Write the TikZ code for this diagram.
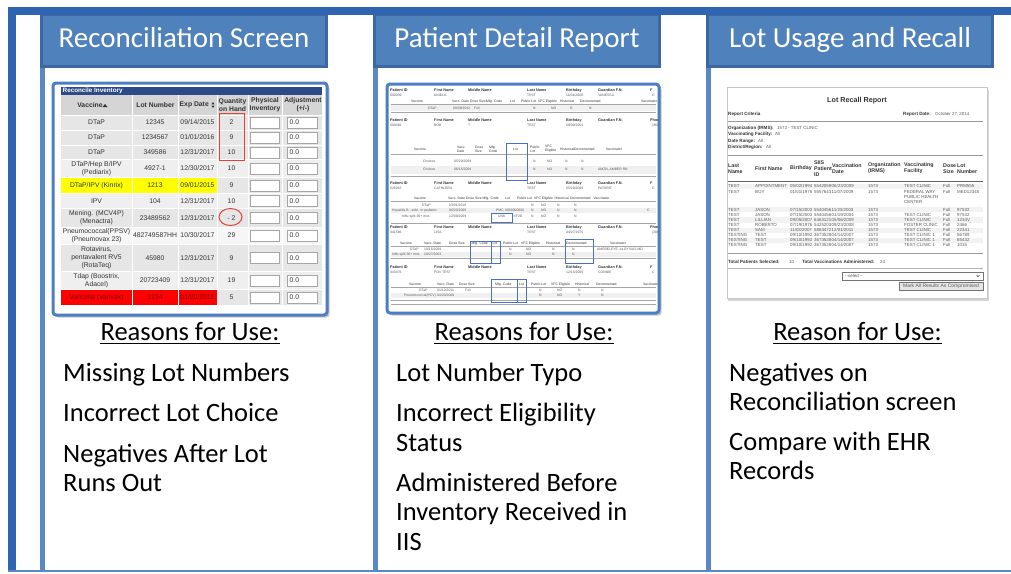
\documentclass[tikz,border=0pt]{standalone}
\usepackage{fontspec}
\setmainfont{Carlito}
\newfontfamily\arialf{Liberation Sans}
\definecolor{bandblue}{HTML}{2F64B0}
\definecolor{headfill}{HTML}{4F81BD}
\definecolor{headedge}{HTML}{3D67A3}
\definecolor{colline}{HTML}{5A88C7}
\definecolor{shotblue}{HTML}{4C7EC3}
\definecolor{navybar}{HTML}{2C4A86}
\definecolor{rowA}{HTML}{E6E6E6}
\definecolor{rowB}{HTML}{EFEFEF}
\definecolor{rowC}{HTML}{F6F6F6}
\definecolor{headgray}{HTML}{D5D5D5}
\definecolor{yellowhl}{HTML}{FFFF00}
\definecolor{redhl}{HTML}{FF0000}
\definecolor{redmark}{HTML}{E0433C}
\definecolor{txtdark}{HTML}{333333}
\definecolor{txtmid}{HTML}{5A5A5A}
\definecolor{darkmaroon}{HTML}{7A0A0A}
\definecolor{hlblue}{HTML}{4A72C0}
\newcount\autoid
\tikzset{
  autoname/.code={\global\advance\autoid by 1\relax\edef\autonm{t\the\autoid}\pgfkeysalso{/tikz/name/.expanded=\autonm}},
  hdbox/.style={fill=headfill, draw=headedge, line width=3},
  hdtxt/.style={text=white, font=\fontsize{29}{34}\selectfont, inner sep=0, anchor=base},
  rtitle/.style={font=\fontsize{26.5}{30}\selectfont, inner sep=0, anchor=base},
  item/.style={font=\fontsize{26.5}{30}\selectfont, inner sep=0, anchor=base west},
  uline/.style={line width=1.5, black},
  shotframe/.style={draw=shotblue, line width=3, rounded corners=3, fill=white},
  shotshadow/.style={fill=black!22, rounded corners=3},
  cell/.style={font=\arialf\fontsize{6.8}{8}\selectfont, text=txtdark, inner sep=0, align=center},
  cellhd/.style={cell, font=\arialf\bfseries\fontsize{6.8}{8}\selectfont},
  inbox/.style={draw=black!35, fill=white, line width=0.5},
  pdl/.style={font=\arialf\bfseries\fontsize{3.8}{4.2}\selectfont, text=txtdark, inner sep=0, anchor=base west, autoname},
  pdv/.style={font=\arialf\fontsize{3.4}{3.9}\selectfont, text=txtmid, inner sep=0, anchor=base west, autoname},
  pdh/.style={font=\arialf\fontsize{3.4}{3.9}\selectfont, text=txtdark, inner sep=0, anchor=base west, autoname},
  pdh2/.style={font=\arialf\fontsize{3.4}{3.9}\selectfont, text=txtdark, inner sep=0, anchor=west, align=left, autoname},
  pdline/.style={draw=black!35, line width=0.5},
  pdbox/.style={draw=hlblue, line width=1},
  lr/.style={font=\arialf\fontsize{4.4}{5}\selectfont, text=txtmid, inner sep=0, anchor=base west, autoname},
  lrb/.style={lr, font=\arialf\bfseries\fontsize{4.6}{5.2}\selectfont, text=txtdark},
  lrh/.style={font=\arialf\bfseries\fontsize{5.3}{5.9}\selectfont, text=txtdark, inner sep=0, anchor=west, align=left, autoname},
  lrline/.style={draw=black!40, line width=1},
}
\newcommand{\invrow}[8]{%
  \pgfmathsetmacro\rmid{(#2+#3)/2}%
  \node[cell, text=#8] (iv#1) at (96.5,\rmid) {#4};
  \node[cell, text=#8] (il#1) at (155,\rmid) {#5};
  \node[cell, text=#8] (id#1) at (197.5,\rmid) {#6};
  \node[cell] (iq#1) at (231.5,\rmid) {#7};
  \draw[inbox] (250,{\rmid-5.5}) rectangle (279.5,{\rmid+5.5});
  \draw[inbox] (287,{\rmid-5.5}) rectangle (317.5,{\rmid+5.5});
  \node[cell, anchor=west] (ia#1) at (289.5,\rmid) {0.0};
}
\newcommand{\pdpat}[2]{%
  \node[pdl] at (390,#1) {Patient ID};
  \node[pdl] at (434,#1) {First Name};
  \node[pdl] at (468,#1) {Middle Name};
  \node[pdl] at (527,#1) {Last Name};
  \node[pdl] at (566,#1) {Birthday};
  \node[pdl] at (598,#1) {Guardian F.N.};
  \node[pdl] at (650,#1) {#2};
}
\newcommand{\lrrow}[8]{%
  \node[lr] at (728,#1) {#2};
  \node[lr] at (755,#1) {#3};
  \node[lr] at (790,#1) {#4};
  \node[lr] at (814,#1) {#5};
  \node[lr] at (831.5,#1) {#6};
  \node[lr] at (868,#1) {1573};
  \def\lrfac{#7}\ifx\lrfac\empty\else\node[lr] at (904,#1) {#7};\fi
  \node[lr] at (943,#1) {Full};
  \node[lr] at (957,#1) {#8};
}
\begin{document}
\begin{tikzpicture}[x=1pt,y=-1pt]
\useasboundingbox (0,0) rectangle (1011,573);
% ---------- frame ----------
\fill[bandblue] (8,7) rectangle (16,572);
\fill[colline] (8,569.5) rectangle (1011,572);
\foreach \cx in {40,373,706} \fill[colline] (\cx,66) rectangle (\cx+4.5,571);
\draw[hdbox] (41.5,14.5) rectangle (326.5,66.5);
\draw[hdbox] (374.5,14.5) rectangle (659.5,66.5);
\draw[hdbox] (707.5,14.5) rectangle (992.5,66.5);
\fill[bandblue] (8,7) rectangle (1011,14.5);
\node[hdtxt] (h1) at (184,47) {Reconciliation Screen};
\node[hdtxt] (h2) at (517,47) {Patient Detail Report};
\node[hdtxt] (h3) at (850,47) {Lot Usage and Recall};

% ---------- column 1: reconcile inventory ----------
\fill[shotshadow] (55.5,85.5) rectangle (329.5,317.5);
\draw[shotframe] (53,83) rectangle (327,315);
\fill[navybar] (61,87) rectangle (322,95);
\node[anchor=west, inner sep=0, text=white, font=\arialf\bfseries\fontsize{6.3}{7}\selectfont] (invtitle) at (62.5,91) {Reconcile Inventory};
\fill[headgray] (61,95) rectangle (322,115);
\foreach \ta/\tb/\tc in {115/130/rowA, 130/145/rowA, 145/159.5/rowA, 159.5/177.5/rowB, 177.5/193/rowA, 193/208.5/rowB, 208.5/227/rowA, 227/244/rowC, 244/271.5/rowA, 271.5/289.5/rowB, 289.5/305/rowA}
  \fill[\tc] (61,\ta) rectangle (322,\tb);
\fill[yellowhl] (61,177.5) rectangle (217,193);
\fill[redhl] (61,289.5) rectangle (217,305);
\foreach \gx in {132,178,217,248,282} \draw[white, line width=1] (\gx,95) -- (\gx,305);
\foreach \gy in {115,130,145,159.5,177.5,193,208.5,227,244,271.5,289.5} \draw[white, line width=1] (61,\gy) -- (322,\gy);
\node[cellhd] (hv) at (90,105) {Vaccine};
\fill[txtdark] (102.5,107) -- (107.5,107) -- (105,104) -- cycle;
\node[cellhd] (hl) at (155.5,105) {Lot Number};
\node[cellhd, anchor=west] (he) at (179.5,105) {Exp Date};
\fill[txtdark] (211.5,104.3) -- (214.5,104.3) -- (213,102) -- cycle;
\fill[txtdark] (211.5,105.7) -- (214.5,105.7) -- (213,108) -- cycle;
\node[cellhd] (hq) at (232.5,105) {Quantity\\on Hand};
\node[cellhd] (hp) at (265,105) {Physical\\Inventory};
\node[cellhd] (ha) at (303,105) {Adjustment\\(+/-)};
\invrow{1}{115}{130}{DTaP}{12345}{09/14/2015}{2}{txtdark}
\invrow{2}{130}{145}{DTaP}{1234567}{01/01/2016}{9}{txtdark}
\invrow{3}{145}{159.5}{DTaP}{349586}{12/31/2017}{10}{txtdark}
\invrow{4}{159.5}{177.5}{DTaP/Hep B/IPV\\(Pediarix)}{4927-1}{12/30/2017}{10}{txtdark}
\invrow{5}{177.5}{193}{DTaP/IPV (Kinrix)}{1213}{09/01/2015}{9}{txtdark}
\invrow{6}{193}{208.5}{IPV}{104}{12/31/2017}{10}{txtdark}
\invrow{7}{208.5}{227}{Mening. (MCV4P)\\(Menactra)}{23489562}{12/31/2017}{- 2}{txtdark}
\invrow{8}{227}{244}{Pneumococcal(PPSV)\\(Pneumovax 23)}{482749587HH}{10/30/2017}{29}{txtdark}
\invrow{9}{244}{271.5}{Rotavirus,\\pentavalent RV5\\(RotaTeq)}{45980}{12/31/2017}{9}{txtdark}
\invrow{10}{271.5}{289.5}{Tdap (Boostrix,\\Adacel)}{20723409}{12/31/2017}{19}{txtdark}
\invrow{11}{289.5}{305}{Varicella (Varivax)}{1234}{01/20/2015}{5}{darkmaroon}
\draw[redmark, line width=1] (219,113.5) rectangle (244.5,160);
\draw[redmark, line width=1] (230.5,217) ellipse [x radius=11.5, y radius=8.5];

% ---------- column 2: patient detail report ----------
\fill[shotshadow] (389.5,86.5) rectangle (661.5,315.5);
\draw[shotframe] (387,84) rectangle (659,313);
\begin{scope}
\clip (389,86) rectangle (657,311);
% block 1
\pdpat{91}{F}
\node[pdv] at (390,96) {000939}; \node[pdv] at (434,96) {ANIELA}; \node[pdv] at (527,96) {TEST}; \node[pdv] at (566,96) {11/04/2009}; \node[pdv] at (598,96) {VANESSA}; \node[pdv] at (652,96) {C};
\node[pdh] at (411,102.5) {Vaccine}; \node[pdh] at (452,102.5) {Vacc. Date}; \node[pdh] at (470,102.5) {Dose Size}; \node[pdh] at (486,102.5) {Mfg. Code}; \node[pdh] at (510,102.5) {Lot}; \node[pdh] at (521,102.5) {Public Lot}; \node[pdh] at (538,102.5) {VFC Eligible}; \node[pdh] at (560,102.5) {Historical}; \node[pdh] at (580,102.5) {Decremented}; \node[pdh] at (641,102.5) {Vaccinator};
\draw[pdline] (391,104.5) -- (656,104.5);
\fill[black!6] (391,105) rectangle (656,110.5);
\node[pdv] at (428,109) {DTaP}; \node[pdv] at (453,109) {08/09/2012}; \node[pdv] at (474,109) {Full}; \node[pdv] at (533,109) {N}; \node[pdv] at (551,109) {NO}; \node[pdv] at (570,109) {N}; \node[pdv] at (589,109) {N};
\draw[pdline] (391,112.5) -- (656,112.5);
% block 2
\pdpat{121}{Phon}
\node[pdv] at (390,126) {000482}; \node[pdv] at (434,126) {BOB}; \node[pdv] at (468,126) {T}; \node[pdv] at (527,126) {TEST}; \node[pdv] at (566,126) {09/09/1954}; \node[pdv] at (652,126) {(360)};
\node[pdh2] at (414,149) {Vaccine}; \node[pdh2] at (457,149) {Vacc.\\Date}; \node[pdh2] at (475,149) {Dose\\Size}; \node[pdh2] at (489,149) {Mfg.\\Code}; \node[pdh2] at (513,149) {Lot}; \node[pdh2] at (530,149) {Public\\Lot}; \node[pdh2] at (545,149) {VFC\\Eligible}; \node[pdh2] at (560,149) {HistoricalDecremented}; \node[pdh2] at (606,149) {Vaccinator};
\draw[pdline] (391,154.5) -- (656,154.5);
\node[pdv] at (423,162.5) {Cholera}; \node[pdv] at (454,162.5) {05/20/2009}; \node[pdv] at (533,162.5) {N}; \node[pdv] at (547,162.5) {NO}; \node[pdv] at (565,162.5) {N}; \node[pdv] at (581,162.5) {N};
\fill[black!6] (391,165.5) rectangle (656,173.5);
\node[pdv] at (423,170.5) {Cholera}; \node[pdv] at (454,170.5) {06/15/2009}; \node[pdv] at (533,170.5) {N}; \node[pdv] at (547,170.5) {NO}; \node[pdv] at (565,170.5) {N}; \node[pdv] at (581,170.5) {N}; \node[pdv] at (598,170.5) {AMZN, AMBER RN};
\draw[pdline] (391,176.5) -- (656,176.5);
\draw[pdbox] (506,143) rectangle (527,180);
% block 3
\pdpat{184}{F}
\node[pdv] at (390,189) {026915}; \node[pdv] at (434,189) {CATHLEEN}; \node[pdv] at (527,189) {TEST}; \node[pdv] at (566,189) {05/20/2009}; \node[pdv] at (598,189) {PATIENT}; \node[pdv] at (652,189) {C};
\node[pdh] at (414,199.5) {Vaccine}; \node[pdh] at (448,199.5) {Vacc. Date}; \node[pdh] at (466,199.5) {Dose Size}; \node[pdh] at (482.5,199.5) {Mfg. Code}; \node[pdh] at (505,199.5) {Lot}; \node[pdh] at (517,199.5) {Public Lot}; \node[pdh] at (534,199.5) {VFC Eligible}; \node[pdh] at (554.5,199.5) {Historical}; \node[pdh] at (570,199.5) {Decremented}; \node[pdh] at (593.5,199.5) {Vaccinator};
\draw[pdline] (391,201.5) -- (656,201.5);
\node[pdv] at (422,206) {DTaP}; \node[pdv] at (449,206) {03/01/2010}; \node[pdv] at (531,206) {N}; \node[pdv] at (541,206) {NO}; \node[pdv] at (557,206) {N}; \node[pdv] at (574,206) {N};
\fill[black!6] (391,208) rectangle (656,213);
\node[pdv] at (392,211.5) {Hepatitis B - adol. or pediatric}; \node[pdv] at (449,211.5) {06/20/2009}; \node[pdv] at (496,211.5) {PMC}; \node[pdv] at (505,211.5) {0000000000}; \node[pdv] at (531,211.5) {N}; \node[pdv] at (541,211.5) {NO}; \node[pdv] at (557,211.5) {N}; \node[pdv] at (574,211.5) {N}; \node[pdv] at (647,211.5) {C};
\node[pdv] at (402,217.5) {Influ split 36+ mos}; \node[pdv] at (449,217.5) {12/09/2009}; \node[pdv] at (498,217.5) {UNK}; \node[pdv] at (513.5,217.5) {XF2D}; \node[pdv] at (531,217.5) {N}; \node[pdv] at (541,217.5) {NO}; \node[pdv] at (557,217.5) {N}; \node[pdv] at (574,217.5) {N};
\draw[pdbox] (491,213) rectangle (512.7,222);
\draw[pdline] (391,223.5) -- (656,223.5);
% block 4
\pdpat{228.5}{Phon}
\node[pdv] at (390,233.5) {041566}; \node[pdv] at (434,233.5) {LISA}; \node[pdv] at (527,233.5) {TEST}; \node[pdv] at (566,233.5) {04/27/1970}; \node[pdv] at (652,233.5) {(206)};
\node[pdh] at (400,244.5) {Vaccine}; \node[pdh] at (424,244.5) {Vacc. Date}; \node[pdh] at (449,244.5) {Dose Size}; \node[pdh] at (471.5,244.5) {Mfg. Code}; \node[pdh] at (492.5,244.5) {Lot}; \node[pdh] at (503,244.5) {Public Lot}; \node[pdh] at (521,244.5) {VFC Eligible}; \node[pdh] at (546,244.5) {Historical}; \node[pdh] at (566,244.5) {Decremented}; \node[pdh] at (610,244.5) {Vaccinator};
\draw[pdline] (391,246.5) -- (656,246.5);
\node[pdv] at (410,250.5) {DTaP}; \node[pdv] at (424,250.5) {10/15/2009}; \node[pdv] at (509,250.5) {N}; \node[pdv] at (526,250.5) {NO}; \node[pdv] at (552,250.5) {N}; \node[pdv] at (572,250.5) {N}; \node[pdv] at (597,250.5) {AMEBELEYE, ALOYSIUS MD};
\fill[black!6] (391,252) rectangle (656,257);
\node[pdv] at (392,255.5) {Influ split 36+ mos}; \node[pdv] at (424,255.5) {10/27/2003}; \node[pdv] at (509,255.5) {N}; \node[pdv] at (526,255.5) {NO}; \node[pdv] at (552,255.5) {N}; \node[pdv] at (572,255.5) {N};
\draw[pdline] (391,258.5) -- (656,258.5);
\draw[pdbox] (470.7,241.7) rectangle (491.7,263.3);
\draw[pdbox] (491.7,241.7) rectangle (500.7,263.3);
\draw[pdbox] (565,239.3) rectangle (593.3,263.3);
% block 5
\pdpat{268}{F}
\node[pdv] at (390,273) {043476}; \node[pdv] at (434,273) {POV TEST}; \node[pdv] at (527,273) {TEST}; \node[pdv] at (566,273) {12/15/2009}; \node[pdv] at (598,273) {CONNIE}; \node[pdv] at (652,273) {C};
\node[pdh] at (409,285.5) {Vaccine}; \node[pdh] at (437,285.5) {Vacc. Date}; \node[pdh] at (459,285.5) {Dose Size}; \node[pdh] at (495,285.5) {Mfg. Code}; \node[pdh] at (519,285.5) {Lot}; \node[pdh] at (531,285.5) {Public Lot}; \node[pdh] at (551,285.5) {VFC Eligible}; \node[pdh] at (575,285.5) {Historical}; \node[pdh] at (596,285.5) {Decremented}; \node[pdh] at (643,285.5) {Vaccinator};
\draw[pdline] (391,287.5) -- (656,287.5);
\node[pdv] at (419,291.5) {DTaP}; \node[pdv] at (437,291.5) {01/12/2011}; \node[pdv] at (465,291.5) {Full}; \node[pdv] at (539,291.5) {N}; \node[pdv] at (557,291.5) {NO}; \node[pdv] at (578,291.5) {N}; \node[pdv] at (601,291.5) {N};
\fill[black!6] (391,293) rectangle (656,298);
\node[pdv] at (404,296.5) {Pneumococcal(PCV)}; \node[pdv] at (437,296.5) {04/20/2009}; \node[pdv] at (539,296.5) {N}; \node[pdv] at (557,296.5) {NO}; \node[pdv] at (578,296.5) {Y}; \node[pdv] at (601,296.5) {N};
\draw[pdline] (391,300.5) -- (656,300.5);
\draw[pdline] (391,304) -- (656,304);
\draw[pdbox] (491.7,279.3) rectangle (517.3,302.7);
\draw[pdbox] (517.3,279.3) rectangle (526.7,302.7);
\end{scope}

% ---------- column 3: lot recall report ----------
\fill[black!16] (728,89.5) rectangle (988.5,300.5);
\draw[draw=black!22, fill=white, line width=0.6] (727,87) rectangle (987,298);
\node[font=\arialf\bfseries\fontsize{7.2}{8}\selectfont, text=txtdark, inner sep=0, anchor=base] (lrtitle) at (857,102) {Lot Recall Report};
\node[lrb] at (728,115.5) {Report Criteria};
\node[lrb] at (903,115.5) {Report Date:};
\node[lr] at (935,115.5) {October 27, 2014};
\draw[lrline] (728,121) -- (983,121);
\node[lrb] at (728,129) {Organization (IRMS):}; \node[lr] at (777,129) {1573 - TEST CLINIC};
\node[lrb] at (728,135.5) {Vaccinating Facility:}; \node[lr] at (775,135.5) {All};
\node[lrb] at (728,142) {Date Range:}; \node[lr] at (758,142) {All};
\node[lrb] at (728,148.5) {District/Region:}; \node[lr] at (766,148.5) {All};
\draw[lrline] (728,155) -- (983,155);
\node[lrh] at (728,168.5) {Last\\Name};
\node[lrh] at (755,168.5) {First Name};
\node[lrh] at (790,168.5) {Birthday};
\node[lrh] at (814,168.5) {SIIS\\Patient\\ID};
\node[lrh] at (832,168.5) {Vaccination\\Date};
\node[lrh] at (868,168.5) {Organization\\(IRMS)};
\node[lrh] at (904,168.5) {Vaccinating\\Facility};
\node[lrh] at (943,168.5) {Dose\\Size};
\node[lrh] at (957,168.5) {Lot\\Number};
\draw[draw=black!60, line width=1] (728,181) -- (983,181);
\foreach \by in {187.5,211,221.3,231.5,241.5} \fill[black!5] (728,\by-4) rectangle (983,\by+1.2);
\lrrow{187.5}{TEST}{APPOINTMENT}{05/02/1994}{5542059}{06/23/2009}{TEST CLINIC}{PRM555}
\lrrow{193.5}{TEST}{BOY}{01/01/1976}{5557643}{11/07/2009}{FEDERAL WAY}{MED12345}
\node[lr] at (904,198.5) {PUBLIC HEALTH};
\node[lr] at (904,203.5) {CENTER};
\lrrow{211}{TEST}{JASON}{07/15/2003}{5540456}{11/23/2003}{}{97532}
\lrrow{216.3}{TEST}{JASON}{07/15/2003}{5540456}{01/19/2004}{TEST CLINIC}{97532}
\lrrow{221.3}{TEST}{LILLIAN}{09/05/2007}{6463121}{05/06/2009}{TEST CLINIC}{1234V}
\lrrow{226.3}{TEST}{ROBERTO}{07/19/1976}{5425203}{09/23/2008}{FOSTER CLINIC}{2466}
\lrrow{231.5}{TEST}{SAM}{11/03/2007}{5863472}{12/01/2011}{TEST CLINIC}{22341}
\lrrow{236.5}{TESTING}{TEST}{09/10/1992}{3673528}{04/14/2007}{TEST CLINIC 1}{56789}
\lrrow{241.5}{TESTING}{TEST}{09/10/1992}{3673528}{04/14/2007}{TEST CLINIC 1}{65432}
\lrrow{246.5}{TESTING}{TEST}{09/10/1992}{3673528}{04/14/2007}{TEST CLINIC 1}{1015}
\draw[lrline] (728,253) -- (983,253);
\node[lrb] at (728,263.5) {Total Patients Selected:}; \node[lr] at (789,263.5) {10};
\node[lrb] at (802,263.5) {Total Vaccinations Administered:}; \node[lr] at (880,263.5) {24};
\draw[draw=black!30, line width=0.8] (728,268) -- (983,268);
\draw[draw=black!55, fill=white, line width=0.5] (842,272) rectangle (983,280);
\node[lr] at (845,277.8) {--select--};
\draw[black!70, line width=0.6] (976.5,275) -- (978,276.8) -- (979.5,275);
\draw[draw=black!55, fill=black!10, line width=0.5] (899,282) rectangle (983,290);
\node[font=\arialf\fontsize{5}{6}\selectfont, text=txtmid, inner sep=0] (markbtn) at (941,286) {Mark All Results As Compromised};

% ---------- reasons ----------
\node[rtitle] (r1) at (190,340.7) {Reasons for Use:};
\node[rtitle] (r2) at (524,340.7) {Reasons for Use:};
\node[rtitle] (r3) at (857.5,340.7) {Reason for Use:};
\foreach \rn in {r1,r2,r3} \draw[uline] ([yshift=-3pt]\rn.base west) -- ([yshift=-3pt]\rn.base east);
\node[item] (a1) at (63,381) {Missing Lot Numbers};
\node[item] (a2) at (63,421.7) {Incorrect Lot Choice};
\node[item] (a3) at (63,462.3) {Negatives After Lot};
\node[item] (a4) at (63,491.7) {Runs Out};
\node[item] (b1) at (396,381) {Lot Number Typo};
\node[item] (b2) at (396,421.7) {Incorrect Eligibility};
\node[item] (b3) at (396,451) {Status};
\node[item] (b4) at (396,491.7) {Administered Before};
\node[item] (b5) at (396,520.7) {Inventory Received in};
\node[item] (b6) at (396,550) {IIS};
\node[item] (c1) at (729,381) {Negatives on};
\node[item] (c2) at (729,410) {Reconciliation screen};
\node[item] (c3) at (729,450.7) {Compare with EHR};
\node[item] (c4) at (729,479.3) {Records};
\end{tikzpicture}
\end{document}
